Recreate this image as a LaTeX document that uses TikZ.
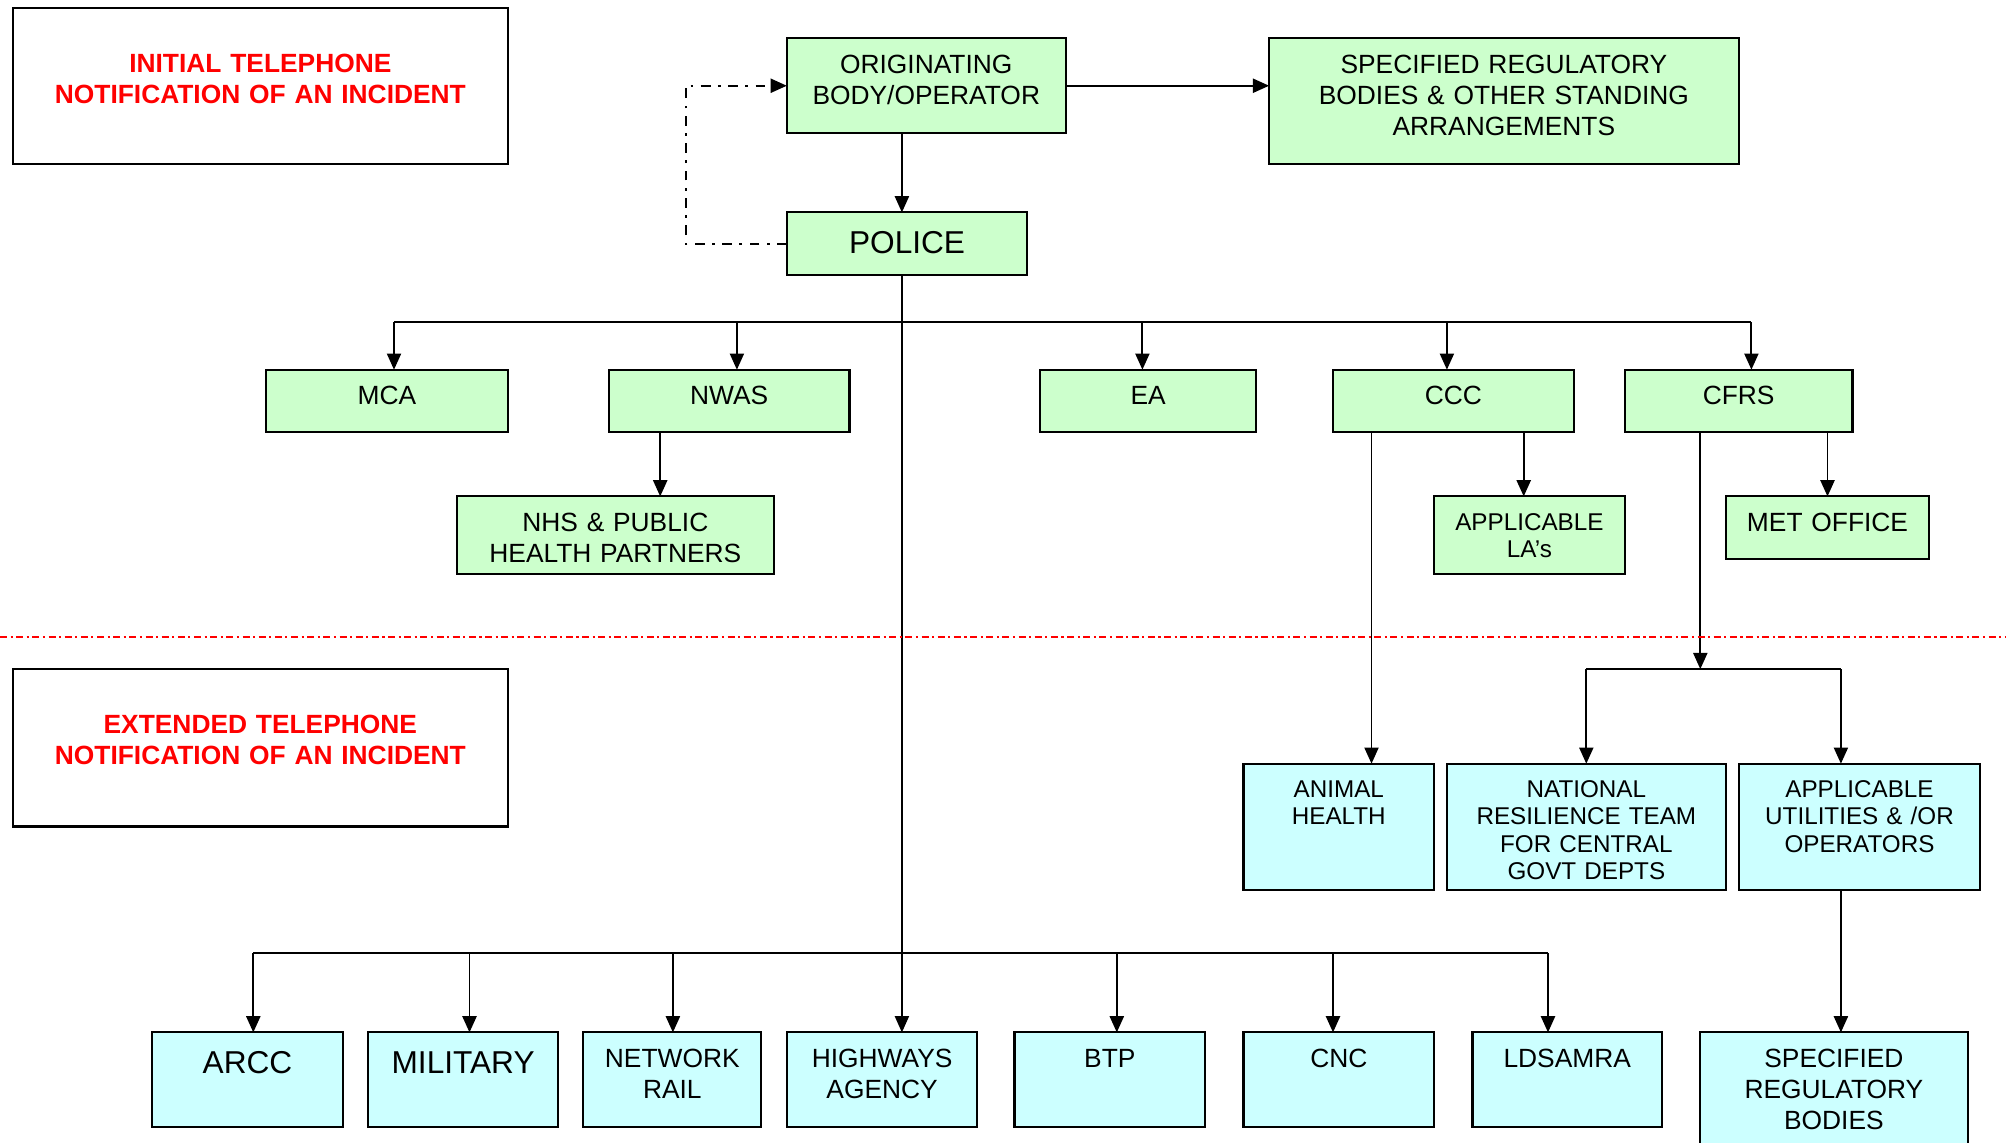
\documentclass[tikz,border=0pt]{standalone}
\usepackage{fontspec}
\setmainfont{Liberation Sans}
\usetikzlibrary{arrows.meta, positioning}
\definecolor{boxgreen}{HTML}{CCFFCC}
\definecolor{boxcyan}{HTML}{CCFFFF}

\begin{document}
\begin{tikzpicture}[
					base/.style 2 args={rectangle, draw=black, line width=0.6pt, outer sep=0pt, text width=#1cm, text depth=#2pt, inner xsep=0pt, inner ysep=4.5pt, align=center, anchor=north west},
					gbox/.style 2 args={base={#1}{#2}, fill=boxgreen},
					cbox/.style 2 args={base={#1}{#2}, fill=boxcyan},
					notebox/.style 2 args={base={#1}{#2}, fill=white, text=red, font=\bfseries\fontsize{7.5}{8.9}\selectfont, text height=13.8pt},
					txt/.style={font=\fontsize{7.5}{8.9}\selectfont, text height=5.4pt},
					bigtxt/.style={font=\fontsize{9}{10.8}\selectfont, text height=7.1pt},
					smalltxt/.style={font=\fontsize{6.9}{7.8}\selectfont, text height=5.1pt},
					conn/.style={line width=0.55pt},
					arrow/.style={-{Triangle[length=4.6pt, width=4pt]}, line width=0.55pt},
					loopline/.style={arrow, dash pattern=on 2.8pt off 2.1pt on 0.8pt off 2.1pt},
					sepline/.style={red, line width=0.6pt, dash pattern=on 2pt off 1pt on 0.6pt off 1pt}
					]
					\path[use as bounding box, clip] (0,0) rectangle (20.06,-11.43);
					
					\node (init) [notebox={4.951}{21.61}] at (0.128,-0.077) {INITIAL TELEPHONE\\NOTIFICATION OF AN INCIDENT};
					\node (ext) [notebox={4.951}{21.98}] at (0.128,-6.691) {EXTENDED TELEPHONE\\NOTIFICATION OF AN INCIDENT};
					
					\node (orig) [gbox={2.789}{12.54}, txt] at (7.868,-0.384) {ORIGINATING\\BODY/OPERATOR};
					\node (spec) [gbox={4.695}{21.28}, txt] at (12.691,-0.384) {SPECIFIED REGULATORY\\BODIES \& OTHER STANDING\\ARRANGEMENTS};
					\node (police) [gbox={2.405}{1.74}, bigtxt] at (7.868,-2.124) {POLICE};
					
					\node (mca) [gbox={2.418}{3.44}, txt] at (2.661,-3.697) {MCA};
					\node (nwas) [gbox={2.405}{3.44}, txt, right=1.011cm of mca] {NWAS};
					\node (ea) [gbox={2.162}{3.44}, txt, right=1.906cm of nwas] {EA};
					\node (ccc) [gbox={2.405}{3.44}, txt, right=0.768cm of ea] {CCC};
					\node (cfrs) [gbox={2.277}{3.44}, txt, right=0.512cm of ccc] {CFRS};
					
					\node (nhs) [gbox={3.173}{7.79}, txt] at (4.567,-4.964) {NHS \& PUBLIC\\HEALTH PARTNERS};
					\node (las) [gbox={1.906}{8.09}, smalltxt] at (14.341,-4.964) {APPLICABLE\\LA’s};
					\node (met) [gbox={2.034}{3.44}, txt] at (17.258,-4.964) {MET OFFICE};
					
					\node (animal) [cbox={1.906}{21.95}, smalltxt] at (12.435,-7.637) {ANIMAL\\HEALTH};
					\node (national) [cbox={2.789}{21.95}, smalltxt, right=0.128cm of animal] {NATIONAL\\RESILIENCE TEAM\\FOR CENTRAL\\GOVT DEPTS};
					\node (util) [cbox={2.418}{21.95}, smalltxt, right=0.128cm of national] {APPLICABLE\\UTILITIES \& /OR\\OPERATORS};
					
					\node (arcc) [cbox={1.906}{10.84}, bigtxt] at (1.522,-10.324) {ARCC};
					\node (mil) [cbox={1.894}{10.84}, bigtxt, right=0.256cm of arcc] {MILITARY};
					\node (rail) [cbox={1.778}{12.54}, txt, right=0.256cm of mil] {NETWORK\\RAIL};
					\node (hwy) [cbox={1.906}{12.54}, txt, right=0.256cm of rail] {HIGHWAYS\\AGENCY};
					\node (btp) [cbox={1.906}{12.54}, txt, right=0.371cm of hwy] {BTP};
					\node (cnc) [cbox={1.906}{12.54}, txt, right=0.384cm of btp] {CNC};
					\node (lds) [cbox={1.894}{12.54}, txt, right=0.384cm of cnc] {LDSAMRA};
					\node (specb) [cbox={2.674}{28.28}, txt] at (17.002,-10.324) {SPECIFIED\\REGULATORY\\BODIES};
					
					\coordinate (trunk) at (9.019,0);
					\draw [arrow] (orig.south -| trunk) -- (police.north -| trunk);
					\draw [arrow] (orig.east) -- (orig.east -| spec.west);
					\draw [loopline] (police.west) -- ++(-1.011,0) |- (orig.west);
					\draw [arrow, line width=0.4pt] (police.south -| trunk) -- (hwy.north -| trunk);
					
					\foreach \n/\x in {mca/3.940, nwas/7.369, ea/11.424, ccc/14.469, cfrs/17.514}{
						\coordinate (t-\n) at (\x,-3.224);
						\draw [arrow] (t-\n) -- (t-\n |- \n.north);
					}
					\draw [conn] (t-mca) -- (t-cfrs);
					
					\path (nwas.south west) ++(0.512,0) coordinate (nw-d);
					\path (ccc.south west) ++(0.384,0) coordinate (cc-a);
					\path (ccc.south west) ++(1.906,0) coordinate (cc-b);
					\path (cfrs.south west) ++(0.755,0) coordinate (cf-d);
					\draw [arrow] (nw-d) -- (nw-d |- nhs.north);
					\draw [arrow] (cc-b) -- (cc-b |- las.north);
					\draw [arrow] (cfrs.south -| met.north) -- (met.north);
					\draw [arrow] (cc-a) -- (cc-a |- animal.north);
					
					\coordinate (s-nat) at (15.863,-6.691);
					\coordinate (s-util) at (18.409,-6.691);
					\draw [arrow] (cf-d) -- (cf-d |- s-nat);
					\draw [conn] (s-nat) -- (s-util);
					\draw [arrow] (s-nat) -- (s-nat |- national.north);
					\draw [arrow] (s-util) -- (s-util |- util.north);
					\draw [arrow] (s-util |- util.south) -- (s-util |- specb.north);
					
					\foreach \n/\x in {arcc/2.533, mil/4.695, rail/6.729, btp/11.168, cnc/13.330, lds/15.480}{
						\coordinate (b-\n) at (\x,-9.531);
						\draw [arrow] (b-\n) -- (b-\n |- \n.north);
					}
					\draw [conn] (b-arcc) -- (b-lds);
					
					\draw [sepline] (0,-6.371) -- (20.06,-6.371);
				\end{tikzpicture}
\end{document}
